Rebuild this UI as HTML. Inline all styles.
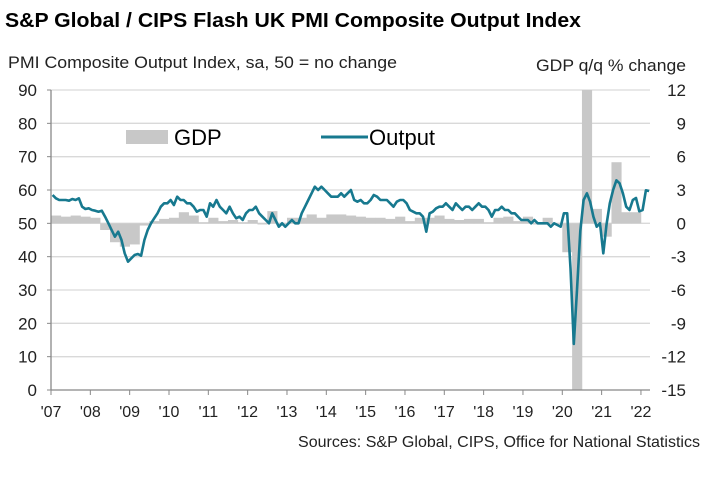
<!DOCTYPE html>
<html><head><meta charset="utf-8"><style>
body{margin:0;background:#fff;font-family:"Liberation Sans",Arial,sans-serif}
svg text{font-family:"Liberation Sans",Arial,sans-serif}
</style></head><body>
<svg id="c" width="723" height="472" xmlns="http://www.w3.org/2000/svg">
<text x="5" y="27" font-size="20" font-weight="bold" fill="#000" textLength="576" lengthAdjust="spacingAndGlyphs">S&amp;P Global / CIPS Flash UK PMI Composite Output Index</text>
<text x="8" y="68" font-size="17" fill="#222" textLength="389" lengthAdjust="spacingAndGlyphs">PMI Composite  Output Index, sa, 50 = no change</text>
<text x="686" y="71" font-size="17" fill="#222" text-anchor="end" textLength="150" lengthAdjust="spacingAndGlyphs">GDP q/q % change</text>
<text x="700" y="447" font-size="16" fill="#222" text-anchor="end" textLength="402" lengthAdjust="spacingAndGlyphs">Sources: S&amp;P Global, CIPS, Office for National Statistics</text>
<g id="grid"></g><g id="bars"></g><g id="line"></g><g id="axes"></g>
<g>
<rect x="126" y="130" width="42" height="14" fill="#c8c8c8"/>
<text x="174" y="145" font-size="22" fill="#000">GDP</text>
<line x1="321" y1="137" x2="368" y2="137" stroke="#17798f" stroke-width="3"/>
<text x="369" y="145" font-size="22" fill="#000">Output</text>
</g>
</svg>
<script>
const leftTicks=[0,10,20,30,40,50,60,70,80,90];
const rightTicks=["12","9","6","3","0","-3","-6","-9","-12","-15"];
const yearLabels=["'07","'08","'09","'10","'11","'12","'13","'14","'15","'16","'17","'18","'19","'20","'21","'22"];
const output=[
58.5,57.5,57,57,57,56.8,57.3,57,57.5,55,54.3,54.5,
54,53.8,53.5,53.8,52,50,48,46,47.5,45,41,38.5,
39.5,40.5,40.8,40.3,45,48,50,51.5,53,55,56,56,
57,55.5,58,57,57,56,56,55,53.5,54,54,52,
56,55,57,55,54,53,55,53,51.5,52,51,53,
54,54,55,53,52,51,50,53,51,49,50,49,
50,51,50,50,53,55,57,59,61,60,61,60,
59,58,58,58,59,58,59,60,57,56.5,57,56,
56,57,58.5,58,57,57,57,56,55,56.5,57,57,
56,54,53.5,53,53,52,47.5,53,53.5,54.5,55,55,
56,55,54,56,55,54,55,55,54,55,56,55,
55,54,52,54,54,55,54,54,53,53,52,51,
51,51,50,51,50,50,50,50,49,50,49.5,49,
53,53,36.5,13.8,30,47.7,57,59,56.5,52,49,50,
41,49.6,56,60,62.9,62,59,55,54,57,57.6,53.6,
54,59.9,59.7];
const gdp=[0.7,0.6,0.7,0.6, 0.5,-0.6,-1.7,-2.1, -1.9,-0.2,0.2,0.4, 0.5,1.0,0.7,0.1, 0.5,0.2,0.3,0.1, 0.3,-0.1,1.1,0.0, 0.5,0.5,0.8,0.5, 0.8,0.8,0.7,0.6, 0.5,0.5,0.4,0.6, 0.2,0.5,0.5,0.7, 0.4,0.3,0.4,0.4, 0.1,0.5,0.6,0.2, 0.6,-0.1,0.5,0.0, -2.6,-19.4,16.9,1.3, -1.2,5.5,1.0,1.0];
const S='http://www.w3.org/2000/svg';
const X0=51,YR=39.33,PT=90,PB=390,PR=650;
const xT=t=>X0+t*YR;
const yL=v=>PB-(v/90)*(PB-PT);
const yR=v=>PB-((v+15)/27)*(PB-PT);
function mk(tag,a,p){const e=document.createElementNS(S,tag);for(const k in a)e.setAttribute(k,a[k]);p.appendChild(e);return e;}
const grid=document.getElementById('grid'),axes=document.getElementById('axes');
leftTicks.forEach((v,i)=>{
 if(v>0){const g=mk('line',{x1:X0,x2:PR,y1:yL(v),y2:yL(v),stroke:'#d9d9d9','stroke-width':1.3},grid);
 
 }
 const t=mk('text',{x:37,y:yL(v)+6,'font-size':17,'text-anchor':'end',fill:'#222'},axes);t.textContent=v;
 
 
 const tk=mk('line',{x1:X0-4,x2:X0,y1:yL(v),y2:yL(v),stroke:'#888'},axes);
 
 
});
rightTicks.forEach(s=>{
 const t=mk('text',{x:686,y:yR(+s)+6,'font-size':17,'text-anchor':'end',fill:'#222'},axes);t.textContent=s;
 
 
});
const ax=mk('line',{x1:X0,x2:X0,y1:PT,y2:PB,stroke:'#888','stroke-width':1.3},axes);


const bx=mk('line',{x1:X0,x2:PR,y1:PB,y2:PB,stroke:'#888','stroke-width':1.3},axes);


yearLabels.forEach((s,i)=>{
 const tk=mk('line',{x1:xT(i),x2:xT(i),y1:PB,y2:PB+5,stroke:'#888'},axes);
 
 
 const t=mk('text',{x:xT(i),y:417,'font-size':16,'text-anchor':'middle',fill:'#222'},axes);t.textContent=s;
 
 
});
const bars=document.getElementById('bars');
gdp.forEach((v,i)=>{
 const c=Math.max(-15,Math.min(12,v));
 const x=xT(i/4),w=YR/4;
 const y0=yR(0),y1=yR(c);
 const r=mk('rect',{x:x,y:Math.min(y0,y1),width:w+0.3,height:Math.max(0.5,Math.abs(y1-y0)),fill:'#c8c8c8'},bars);
 
 
});
const pts=output.map((v,i)=>xT((i+0.5)/12).toFixed(1)+','+yL(v).toFixed(1)).join(' ');
const pl=mk('polyline',{points:pts,fill:'none',stroke:'#17798f','stroke-width':2.6,'stroke-linejoin':'round'},document.getElementById('line'));


</script>
</body></html>
